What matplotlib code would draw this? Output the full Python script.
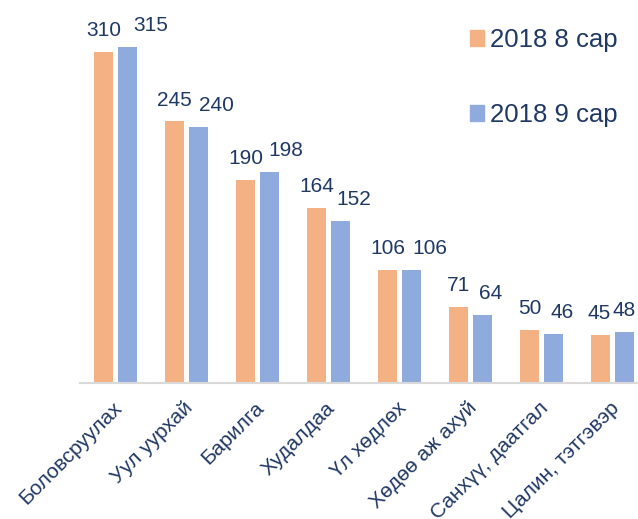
import matplotlib.pyplot as plt
from matplotlib.patches import Patch
from matplotlib.transforms import ScaledTranslation
import numpy as np

plt.rcParams['font.family'] = ['Liberation Sans', 'DejaVu Sans']

# categories and values
categories = ["Боловсруулах", "Уул уурхай", "Барилга", "Худалдаа",
              "Үл хөдлөх", "Хөдөө аж ахуй", "Санхүү, даатгал", "Цалин, тэтгэвэр"]
aug_2018 = [310, 245, 190, 164, 106, 71, 50, 45]
sep_2018 = [315, 240, 198, 152, 106, 64, 46, 48]
series_names = ["2018 8 сар", "2018 9 сар"]

# label nudges (px) so the numbers don't collide, like in the original
aug_shift = [0, 0, 0, 0, 0, 0, 0, -1]
sep_shift = [23, 18, 16.5, 13.7, 18, 7.7, 8.5, 0]

orange = '#F4B183'
blue = '#8FAADC'
text_col = '#1F3864'

fig = plt.figure(figsize=(6.38, 5.19), dpi=100)
ax = fig.add_axes([80 / 638, (519 - 383) / 519, 568 / 638, 363 / 519])

x = np.arange(len(categories))
w = 0.268
off = 0.169
b1 = ax.bar(x - off, aug_2018, w, color=orange)
b2 = ax.bar(x + off, sep_2018, w, color=blue)

for bars, vals, shifts in [(b1, aug_2018, aug_shift), (b2, sep_2018, sep_shift)]:
    for bar, v, s in zip(bars, vals, shifts):
        ax.annotate(str(v), (bar.get_x() + bar.get_width() / 2, v),
                    xytext=(s * 0.72, 8.5), textcoords='offset points',
                    ha='center', va='bottom', fontsize=15, color=text_col)

ax.set_xlim(-0.5, 7.5)
ax.set_ylim(0, 340)
ax.set_yticks([])
for side in ['top', 'right', 'left']:
    ax.spines[side].set_visible(False)
ax.spines['bottom'].set_color('#D9D9D9')
ax.spines['bottom'].set_linewidth(1.5)

ax.set_xticks(x)
ax.set_xticklabels(categories, rotation=45, ha='right', va='top',
                   rotation_mode='anchor', fontsize=15, color=text_col)
ax.tick_params(axis='x', length=0, pad=11)
shift = ScaledTranslation(-3 / 100, 0, fig.dpi_scale_trans)
for lbl in ax.get_xticklabels():
    lbl.set_transform(lbl.get_transform() + shift)

handles = [Patch(color=orange), Patch(color=blue)]
ax.legend(handles, series_names, loc='upper left', frameon=False,
          bbox_to_anchor=(460 / 638, 1 - 18 / 519), bbox_transform=fig.transFigure,
          fontsize=18.5, handlelength=0.55, handleheight=0.55, handletextpad=0.22,
          labelspacing=1.97, labelcolor=text_col, borderaxespad=0)

fig.savefig('out.png', dpi=100)
